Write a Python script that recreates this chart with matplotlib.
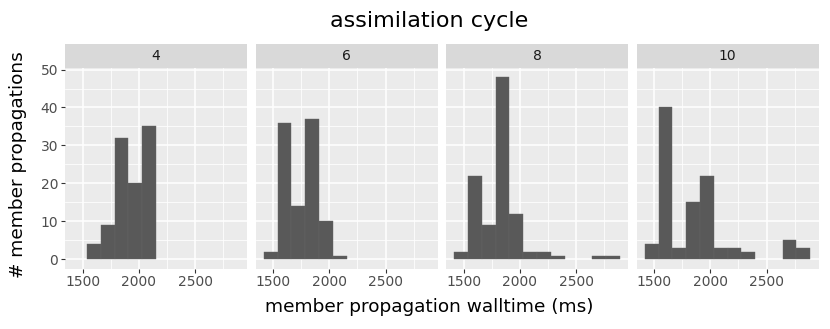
import matplotlib.pyplot as plt
import numpy as np

# Facet labels (assimilation cycle) and histogram counts per bin
cycles = ["4", "6", "8", "10"]
bin_start = 1414
bin_width = 123
counts_4 = [0, 4, 9, 32, 20, 35, 0, 0, 0, 0, 0, 0]
counts_6 = [2, 36, 14, 37, 10, 1, 0, 0, 0, 0, 0, 0]
counts_8 = [2, 22, 9, 48, 12, 2, 2, 1, 0, 0, 1, 1]
counts_10 = [4, 40, 3, 15, 22, 3, 3, 2, 0, 0, 5, 3]
all_counts = [counts_4, counts_6, counts_8, counts_10]

x_ticks = [1500, 2000, 2500]
x_minor = [1750, 2250, 2750]
y_ticks = [0, 10, 20, 30, 40, 50]
y_minor = [5, 15, 25, 35, 45]

BAR = "#595959"
PANEL_BG = "#EBEBEB"
STRIP_BG = "#D9D9D9"
TICK_TXT = "#4D4D4D"

W, H = 830, 329
fig = plt.figure(figsize=(W / 100, H / 100), dpi=100)

edges = bin_start + bin_width * np.arange(len(counts_4) + 1)
span = edges[-1] - edges[0]
xlim = (edges[0] - 0.05 * span, edges[-1] + 0.05 * span)
ymax = max(max(c) for c in all_counts)
ylim = (-0.05 * ymax, ymax * 1.05)

left0, pw, gap = 65, 182, 8.5
top, bottom = 68, 268.5
strip_top = 44

for i, (cyc, counts) in enumerate(zip(cycles, all_counts)):
    x0 = left0 + i * (pw + gap)
    ax = fig.add_axes([x0 / W, 1 - bottom / H, pw / W, (bottom - top) / H])
    ax.set_facecolor(PANEL_BG)
    for s in ax.spines.values():
        s.set_visible(False)
    ax.set_xlim(*xlim)
    ax.set_ylim(*ylim)
    ax.set_xticks(x_ticks)
    ax.set_xticks(x_minor, minor=True)
    ax.set_yticks(y_ticks)
    ax.set_yticks(y_minor, minor=True)
    ax.grid(which="major", color="white", linewidth=1.1)
    ax.grid(which="minor", color="white", linewidth=0.55)
    ax.set_axisbelow(True)
    ax.tick_params(which="minor", length=0)
    ax.tick_params(which="major", length=3, width=0.8, color="#333333",
                   labelsize=10, labelcolor=TICK_TXT, pad=2)
    if i > 0:
        ax.tick_params(axis="y", left=False, labelleft=False)

    c = np.array(counts)
    keep = c > 0
    ax.bar(edges[:-1][keep], c[keep], width=bin_width, align="edge",
           color=BAR, edgecolor="#666666", linewidth=0.3, zorder=2)

    sax = fig.add_axes([x0 / W, 1 - top / H, pw / W, (top - strip_top) / H])
    sax.set_facecolor(STRIP_BG)
    sax.set_xticks([])
    sax.set_yticks([])
    for s in sax.spines.values():
        s.set_visible(False)
    sax.text(0.5, 0.5, cyc, ha="center", va="center", fontsize=10,
             color="#1A1A1A", transform=sax.transAxes)

cx = 429 / W
fig.text(cx, 1 - 21 / H, "assimilation cycle", ha="center", va="center", fontsize=16)
fig.text(cx, 1 - 307 / H, "member propagation walltime (ms)", ha="center",
         va="center", fontsize=13.3)
fig.text(18 / W, 1 - 165 / H, "# member propagations", ha="center", va="center",
         rotation=90, fontsize=13.3)

fig.savefig("out.png", dpi=100, facecolor="white")
